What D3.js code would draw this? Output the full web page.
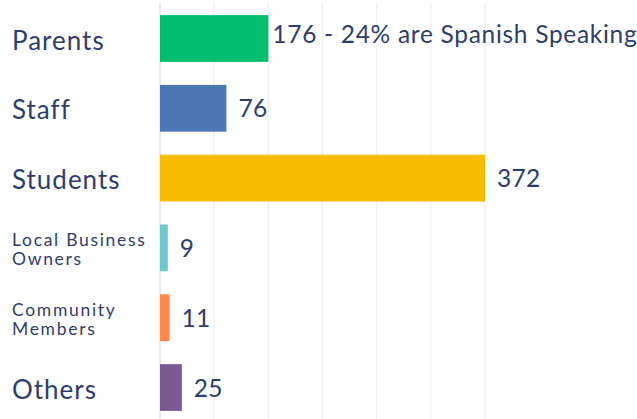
<!DOCTYPE html>
<html>
<head>
<meta charset="utf-8">
<script src="https://cdn.jsdelivr.net/npm/d3@7"></script>
<style>
  html, body { margin: 0; padding: 0; background: #ffffff; }
  svg { display: block; }
</style>
</head>
<body>
<svg id="chart" width="637" height="419"></svg>
<script>
// ---- data ----
const categories = ["Parents", "Staff", "Students", "Local Business Owners", "Community Members", "Others"];
// bar lengths as drawn in the picture (grid step = 62)
const barValues = [124, 76, 372, 9, 11, 25];
// text shown next to each bar
const valueLabels = ["176 - 24% are Spanish Speaking", "76", "372", "9", "11", "25"];
const colors = ["#00BE6E", "#4B78B5", "#F6BD00", "#6FC8C9", "#FF8A4B", "#7B5A93"];
const gridTicks = [0, 62, 124, 186, 248, 310, 372];

// ---- layout ----
const svg = d3.select("#chart");
const W = 637, H = 419;
const x0 = 160, x1 = 485;
const textColor = "#2F3D6B";
const fontFamily = "Lato, 'Open Sans', sans-serif";

const x = d3.scaleLinear().domain([0, 372]).range([x0, x1]);
const y = d3.scaleBand().domain(categories).range([3.6, 422.4])
  .paddingInner(0.33).paddingOuter(0.165);

// grid lines
svg.append("g").selectAll("line").data(gridTicks).join("line")
  .attr("x1", d => x(d)).attr("x2", d => x(d))
  .attr("y1", 3).attr("y2", H)
  .attr("stroke", (d, i) => i === 0 ? "#DCDCDC" : "#EEEEEE")
  .attr("stroke-width", 1.2);

// bars
svg.append("g").selectAll("rect").data(categories).join("rect")
  .attr("x", x(0))
  .attr("y", d => y(d))
  .attr("width", (d, i) => x(barValues[i]) - x(0))
  .attr("height", y.bandwidth())
  .attr("fill", (d, i) => colors[i]);

// category labels
const big = new Set(["Parents", "Staff", "Students", "Others"]);
const catG = svg.append("g");
categories.forEach((c, i) => {
  const cy = y(c) + y.bandwidth() / 2;
  if (big.has(c)) {
    catG.append("text")
      .attr("x", 12).attr("y", cy + 11)
      .attr("fill", textColor)
      .attr("font-family", fontFamily)
      .attr("font-size", 26)
      .attr("letter-spacing", 1)
      .text(c);
  } else {
    const words = c.split(" ");
    const lines = words.length === 3 ? [words[0] + " " + words[1], words[2]] : [words[0], words[1]];
    lines.forEach((ln, k) => {
      catG.append("text")
        .attr("x", 12).attr("y", cy - 2 + k * 19)
        .attr("fill", textColor)
        .attr("font-family", fontFamily)
        .attr("font-size", 17.5)
        .attr("letter-spacing", 1.7)
        .text(ln);
    });
  }
});

// value labels
svg.append("g").selectAll("text").data(categories).join("text")
  .attr("x", (d, i) => x(barValues[i]) + (i === 0 ? 4 : 12))
  .attr("y", (d, i) => y(d) + y.bandwidth() / 2 + (i === 0 ? 4.5 : 9))
  .attr("fill", textColor)
  .attr("font-family", fontFamily)
  .attr("font-size", 24.5)
  .attr("letter-spacing", (d, i) => i === 0 ? 0.7 : 0.3)
  .text((d, i) => valueLabels[i]);
</script>
</body>
</html>
